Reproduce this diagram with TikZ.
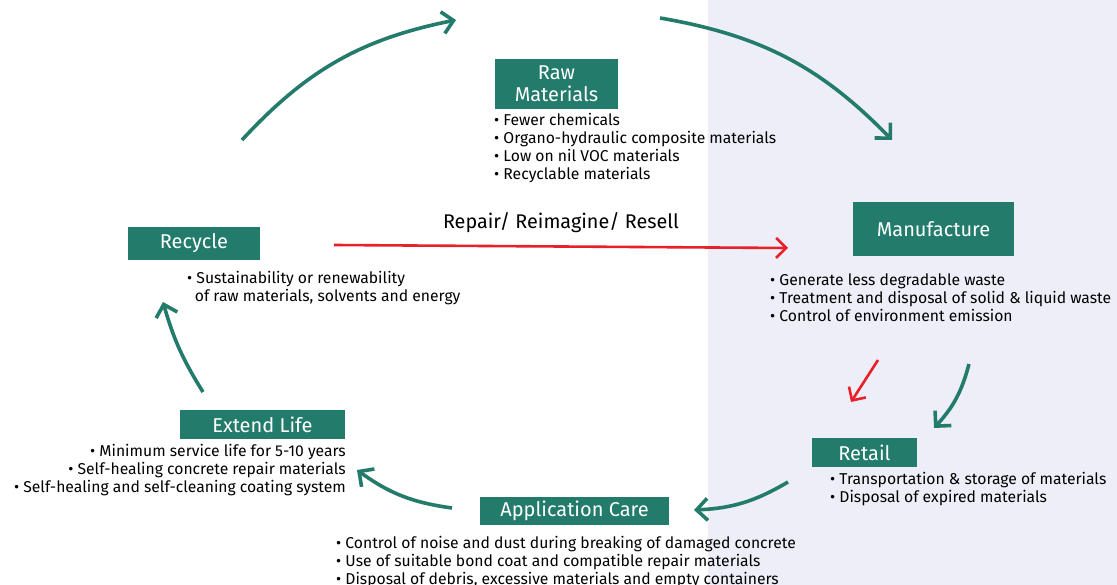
\documentclass[tikz,border=0pt]{standalone}
\usepackage{fontspec}
\setmainfont{Fira Sans}
\usetikzlibrary{arrows.meta}
\usetikzlibrary{positioning}
\definecolor{cycleGreen}{RGB}{35,123,107}
\definecolor{cycleRed}{RGB}{232,32,42}
\definecolor{panelColor}{RGB}{238,238,248}

\begin{document}
\begin{tikzpicture}[x=1pt,y=-1pt,
  stage/.style={fill=cycleGreen, text=white, inner sep=0pt, align=center,
    font=\fontsize{20}{22}\selectfont},
  notes/.style={inner sep=0pt, font=\fontsize{15.7}{18}\selectfont},
  cycle/.style={cycleGreen, line width=3.6pt,
    -{Straight Barb[length=11pt, width=22pt, line width=3.6pt]}},
  shortcut/.style={cycleRed, line width=2.6pt,
    -{Straight Barb[length=10pt, width=20pt, line width=2.6pt]}},
]
\useasboundingbox (0,0) rectangle (1117,585);
\fill [panelColor] (708,0) rectangle (1117,585);

% stages
\node [stage, minimum width=123pt, minimum height=50pt] (raw) at (556.5,84) {Raw\\[0pt]Materials};
\node [stage, minimum width=161pt, minimum height=54pt] (manu) at (933.5,229) {Manufacture};
\node [stage, minimum width=105pt, minimum height=29pt] (retail) at (864.5,452.5) {Retail};
\node [stage, minimum width=189pt, minimum height=28pt] (care) at (574.5,511) {Application Care};
\node [stage, minimum width=165pt, minimum height=29pt] (extend) at (262.5,424.5) {Extend Life};
\node [stage, minimum width=132pt, minimum height=33pt] (recycle) at (194,243.5) {Recycle};

% notes
\node [notes, anchor=north west, align=left] (rawNotes) at (494,113) {%
  • Fewer chemicals\\
  • Organo-hydraulic composite materials\\
  • Low on nil VOC materials\\
  • Recyclable materials};
\node [notes, anchor=north west, align=left] (manuNotes) at (770,274) {%
  • Generate less degradable waste\\
  • Treatment and disposal of solid \& liquid waste\\
  • Control of environment emission};
\node [notes, anchor=north west, align=left] (retailNotes) at (830,472) {%
  • Transportation \& storage of materials\\
  • Disposal of expired materials};
\node [notes, anchor=north west, align=left] (careNotes) at (336,536) {%
  • Control of noise and dust during breaking of damaged concrete\\
  • Use of suitable bond coat and compatible repair materials\\
  • Disposal of debris, excessive materials and empty containers};
\node [notes, anchor=north east, align=right] (extendNotes) at (346,444) {%
  • Minimum service life for 5-10 years\\
  • Self-healing concrete repair materials\\
  • Self-healing and self-cleaning coating system};
\node [notes, anchor=north west, align=left] (recycleNotes) at (187,271) {%
  • Sustainability or renewability\\
  \hphantom{•}\,of raw materials, solvents and energy};

% arrow ends
\coordinate (c1) at (242,140);  \coordinate (c2) at (456,20);
\coordinate (c3) at (660,18);   \coordinate (c4) at (892,140);
\coordinate (c5) at (969,364);  \coordinate (c6) at (934,428);
\coordinate (c7) at (788,482);  \coordinate (c8) at (694,510);
\coordinate (c9) at (452,508);  \coordinate (c10) at (357,470);
\coordinate (c11) at (203,392); \coordinate (c12) at (163,302);
\coordinate (r1) at (334,245);  \coordinate (r2) at (788,248);
\coordinate (r3) at (878,360);  \coordinate (r4) at (851,402);

\draw [cycle] (c1) to[bend left=18] (c2);
\draw [cycle] (c3) to[bend left=18] (c4);
\draw [cycle] (c5) to[bend left=14] (c6);
\draw [cycle] (c7) to[bend left=14] (c8);
\draw [cycle] (c9) to[bend left=14] (c10);
\draw [cycle] (c11) to[bend left=8] (c12);

\draw [shortcut] (r1) -- node [above=9pt, text=black, font=\fontsize{19.8}{22}\selectfont] (repair) {Repair/ Reimagine/ Resell} (r2);
\draw [shortcut] (r3) -- (r4);
\end{tikzpicture}
\end{document}
